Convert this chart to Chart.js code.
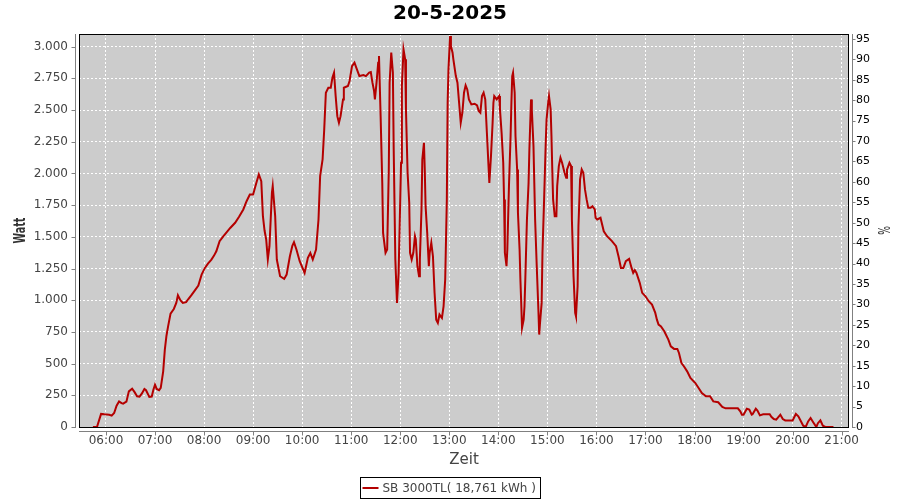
<!DOCTYPE html>
<html>
<head>
<meta charset="utf-8">
<title>20-5-2025</title>
<script src="https://cdn.jsdelivr.net/npm/chart.js@4.4.1/dist/chart.umd.min.js"></script>
<style>
  html, body { margin: 0; padding: 0; background: #fff; }
  #wrap { width: 900px; height: 500px; }
</style>
</head>
<body>
<div id="wrap"><canvas id="chart" width="900" height="500"></canvas></div>
<script>
// ===== Daten =====

const chartTitle = '20-5-2025';
const seriesLabel = 'SB 3000TL( 18,761 kWh )';

const times = [
  '05:44', '05:49', '05:54', '05:58', '06:04', '06:07', '06:10', '06:13', '06:16', '06:19', '06:21', '06:25',
  '06:28', '06:32', '06:35', '06:38', '06:41', '06:44', '06:47', '06:49', '06:53', '06:56', '06:58',
  '07:00', '07:02', '07:05', '07:07', '07:10', '07:12', '07:14', '07:16', '07:19', '07:23', '07:26', '07:28',
  '07:31', '07:34', '07:38', '07:41', '07:45', '07:49', '07:53', '07:57',
  '08:01', '08:05', '08:09', '08:12', '08:15', '08:19', '08:23', '08:27', '08:32', '08:38', '08:43', '08:48',
  '08:52', '08:56',
  '09:00', '09:04', '09:07', '09:10', '09:12', '09:14', '09:16', '09:18', '09:20', '09:23', '09:24', '09:27',
  '09:29', '09:33', '09:38', '09:41', '09:45', '09:48', '09:50', '09:53', '09:57',
  '10:03', '10:07', '10:10', '10:13', '10:17', '10:20', '10:22', '10:25', '10:27', '10:29', '10:32', '10:35',
  '10:37', '10:39', '10:41', '10:43', '10:45', '10:47', '10:50', '10:51', '10:56', '10:58',
  '11:01', '11:04', '11:07', '11:10', '11:15', '11:18', '11:22', '11:24', '11:26', '11:28', '11:29', '11:31',
  '11:33', '11:34', '11:36', '11:38', '11:39', '11:42', '11:44', '11:46', '11:47', '11:49', '11:51', '11:52',
  '11:54', '11:56', '11:58', '11:59',
  '12:01', '12:02', '12:04', '12:06', '12:07', '12:09', '12:11', '12:12', '12:14', '12:16', '12:18', '12:19',
  '12:21', '12:23', '12:24', '12:26', '12:27', '12:29', '12:30', '12:31', '12:33', '12:35', '12:36', '12:38',
  '12:40', '12:42', '12:44', '12:46', '12:48', '12:51', '12:53', '12:55', '12:57', '12:58', '12:59',
  '13:01', '13:02', '13:04', '13:05', '13:08', '13:10', '13:12', '13:14', '13:16', '13:18', '13:20', '13:22',
  '13:24', '13:27', '13:31', '13:34', '13:36', '13:38', '13:40', '13:42', '13:44', '13:46', '13:48', '13:49',
  '13:51', '13:53', '13:54', '13:55', '13:58',
  '14:01', '14:02', '14:04', '14:06', '14:07', '14:08', '14:10', '14:11', '14:13', '14:15', '14:16', '14:17',
  '14:18', '14:20', '14:21', '14:23', '14:24', '14:26', '14:27', '14:28', '14:29', '14:31', '14:32', '14:33',
  '14:35', '14:37', '14:38', '14:40', '14:41', '14:43', '14:44', '14:45', '14:47', '14:49', '14:50', '14:51',
  '14:53', '14:54', '14:56', '14:58', '14:59',
  '15:01', '15:02', '15:04', '15:05', '15:06', '15:07', '15:09', '15:11', '15:12', '15:14', '15:16', '15:18',
  '15:21', '15:23', '15:24', '15:27', '15:29', '15:30', '15:32', '15:34', '15:35', '15:37', '15:38', '15:40',
  '15:42', '15:44', '15:46', '15:48', '15:50', '15:53', '15:55', '15:58', '15:59',
  '16:01', '16:05', '16:09', '16:13', '16:19', '16:24', '16:27', '16:30', '16:33', '16:36', '16:40', '16:43',
  '16:45', '16:47', '16:49', '16:53', '16:56',
  '17:00', '17:04', '17:08', '17:12', '17:14', '17:16', '17:19', '17:23', '17:28', '17:31', '17:35', '17:39',
  '17:41', '17:44', '17:47', '17:51', '17:55',
  '18:01', '18:05', '18:09', '18:14', '18:19', '18:23', '18:29', '18:34', '18:38', '18:48', '18:53', '18:56',
  '18:58',
  '19:00', '19:04', '19:07', '19:10', '19:11', '19:15', '19:17', '19:20', '19:24', '19:32', '19:34', '19:37',
  '19:40', '19:45', '19:48', '19:51', '19:57',
  '20:00', '20:04', '20:07', '20:10', '20:13', '20:16', '20:19', '20:22', '20:25', '20:29', '20:31', '20:34',
  '20:37', '20:40', '20:50'
];

const watts = [
  0, 0, 103, 100, 97, 90, 110, 168, 202, 188, 184, 200,
  281, 302, 275, 242, 240, 265, 300, 290, 237, 240, 294,
  334, 300, 290, 308, 439, 610, 720, 794, 894, 931, 979, 1039,
  1000, 979, 985, 1010, 1044, 1080, 1115, 1202,
  1255, 1290, 1321, 1350, 1386, 1465, 1500, 1531, 1570, 1611, 1660, 1716,
  1781, 1834,
  1834, 1926, 1992, 1939, 1663, 1550, 1479, 1321, 1426, 1847, 1900, 1663,
  1321, 1189, 1168, 1202, 1347, 1430, 1458, 1400, 1308,
  1216, 1334, 1373, 1321, 1400, 1637, 1979, 2110, 2347, 2637, 2676, 2676,
  2755, 2795, 2610, 2452, 2400, 2452, 2584, 2676, 2690, 2729,
  2847, 2874, 2821, 2768, 2776, 2768, 2795, 2800, 2716, 2650, 2584, 2716,
  2874, 2926, 2452, 1926, 1531, 1374, 1400, 2031, 2716, 2953, 2795, 2190,
  1321, 979, 1216, 1505,
  2084, 2689, 2979, 2900, 2505, 2005, 1769, 1374, 1321, 1374, 1505, 1479,
  1268, 1189, 1321, 1716, 2110, 2242, 2031, 1742, 1531, 1268, 1374, 1453,
  1347, 1058, 847, 821, 887, 860, 952, 1163, 1795, 2558, 2821,
  3084, 3005, 2953, 2900, 2768, 2716, 2558, 2400, 2479, 2637, 2695, 2663,
  2584, 2545, 2550, 2537, 2492, 2479, 2610, 2637, 2584, 2321, 2058, 1926,
  2137, 2400, 2558, 2610, 2584,
  2610, 2505, 2321, 2084, 1795, 1374, 1268, 1400, 1900, 2295, 2558, 2768,
  2795, 2637, 2295, 2031, 1690, 1400, 1163, 979, 782, 847, 952, 1163,
  1637, 1926, 2190, 2584, 2500, 2216, 1926, 1637, 1268, 926, 729, 821,
  979, 1374, 1795, 2242, 2426,
  2558, 2610, 2505, 2295, 2031, 1795, 1663, 1663, 1900, 2058, 2124, 2084,
  2005, 1966, 2030, 2084, 2058, 1637, 1189, 900, 873, 1110, 1584, 1953,
  2031, 2005, 1874, 1795, 1729, 1729, 1742, 1716, 1650,
  1637, 1650, 1544, 1505, 1466, 1426, 1347, 1255, 1255, 1308, 1326, 1255,
  1216, 1237, 1216, 1137, 1058,
  1031, 992, 966, 900, 847, 808, 794, 755, 689, 636, 616, 616,
  584, 505, 479, 439, 387,
  347, 308, 268, 242, 242, 202, 195, 158, 147, 147, 147, 123,
  97,
  97, 144, 137, 97, 100, 144, 130, 92, 100, 100, 80, 63,
  58, 97, 63, 52, 52,
  52, 103, 84, 47, 10, 0, 44, 71, 40, 0, 30, 52,
  10, 0, 0
];

const hourTicks = ['06:00', '07:00', '08:00', '09:00', '10:00', '11:00', '12:00', '13:00',
  '14:00', '15:00', '16:00', '17:00', '18:00', '19:00', '20:00', '21:00'];
const wattTicks = [0, 250, 500, 750, 1000, 1250, 1500, 1750, 2000, 2250, 2500, 2750, 3000];
const percentTicks = [0, 5, 10, 15, 20, 25, 30, 35, 40, 45, 50, 55, 60, 65, 70, 75, 80, 85, 90, 95];

// ===== Hilfsfunktionen =====

function toMin(s) {
  const [h, m] = s.split(':').map(Number);
  return h * 60 + m;
}

function fmtTime(v) {
  const h = Math.floor(v / 60);
  const m = Math.round(v % 60);
  return String(h).padStart(2, '0') + ':' + String(m).padStart(2, '0');
}

// 3000 -> "3.000"
function fmtWatt(v) {
  if (v < 1000) return String(v);
  return Math.floor(v / 1000) + '.' + String(v % 1000).padStart(3, '0');
}

const FONT = 'DejaVu Sans';
const LINE_COLOR = '#b40000';

// Hintergrund, Rahmen, versetzte Achsenlinien, Achsentitel, Legende
const framePlugin = {
  id: 'frame',
  beforeDraw(chart) {
    const { ctx, chartArea: a } = chart;
    ctx.save();
    ctx.fillStyle = '#ffffff';
    ctx.fillRect(0, 0, chart.width, chart.height);
    ctx.fillStyle = '#cccccc';
    ctx.fillRect(a.left, a.top, a.right - a.left, a.bottom - a.top);
    ctx.restore();
  },
  afterDraw(chart) {
    const { ctx, chartArea: a, scales } = chart;
    ctx.save();

    // Rahmen des Plotbereichs
    ctx.strokeStyle = '#000000';
    ctx.lineWidth = 1;
    ctx.strokeRect(a.left + 0.5, a.top + 0.5, a.right - a.left - 1, a.bottom - a.top);

    // Achsenlinien (grau, leicht abgesetzt)
    ctx.strokeStyle = '#808080';
    ctx.beginPath();
    const lx = a.left - 3.5;
    ctx.moveTo(lx, a.top);
    ctx.lineTo(lx, a.bottom + 1);
    wattTicks.forEach(v => {
      const p = Math.round(scales.y.getPixelForValue(v)) + 0.5;
      ctx.moveTo(lx - 4, p);
      ctx.lineTo(lx, p);
    });
    const by = a.bottom + 4.5;
    ctx.moveTo(a.left, by);
    ctx.lineTo(a.right, by);
    hourTicks.forEach(t => {
      const p = Math.round(scales.x.getPixelForValue(toMin(t))) + 0.5;
      ctx.moveTo(p, by);
      ctx.lineTo(p, by + 4);
    });
    const rx = a.right + 3.5;
    ctx.moveTo(rx, a.top);
    ctx.lineTo(rx, a.bottom + 1);
    percentTicks.forEach(v => {
      const p = Math.round(scales.y1.getPixelForValue(v)) + 0.5;
      ctx.moveTo(rx, p);
      ctx.lineTo(rx + 3, p);
    });
    ctx.stroke();

    // Achsentitel (gedreht, schmal)
    const midY = (a.top + a.bottom) / 2;
    ctx.fillStyle = '#333333';
    ctx.textAlign = 'center';
    ctx.textBaseline = 'middle';
    ctx.save();
    ctx.font = 'bold 16px ' + FONT;
    ctx.translate(21, midY);
    ctx.rotate(-Math.PI / 2);
    ctx.scale(0.6, 1);
    ctx.fillText('Watt', 0, 0);
    ctx.restore();
    ctx.save();
    ctx.font = '15px ' + FONT;
    ctx.translate(882, midY);
    ctx.rotate(Math.PI / 2);
    ctx.scale(0.62, 1);
    ctx.fillText('%', 0, 0);
    ctx.restore();

    // Legende mit Rahmen
    ctx.font = '12px ' + FONT;
    const tw = ctx.measureText(seriesLabel).width;
    const bw = Math.round(tw + 27);
    const bx = Math.round(450 - bw / 2) + 0.5;
    const bTop = 477.5;
    const bh = 21;
    ctx.strokeStyle = '#000000';
    ctx.lineWidth = 1;
    ctx.strokeRect(bx, bTop, bw, bh);
    ctx.strokeStyle = LINE_COLOR;
    ctx.lineWidth = 2;
    ctx.beginPath();
    ctx.moveTo(bx + 2, 488);
    ctx.lineTo(bx + 18, 488);
    ctx.stroke();
    ctx.fillStyle = '#444444';
    ctx.textAlign = 'left';
    ctx.fillText(seriesLabel, bx + 22, 488.5);

    ctx.restore();
  }
};

const points = times.map((t, i) => ({ x: toMin(t), y: watts[i] }));

new Chart(document.getElementById('chart'), {
  type: 'line',
  data: {
    datasets: [{
      label: seriesLabel,
      data: points,
      borderColor: LINE_COLOR,
      borderWidth: 2,
      pointRadius: 0,
      tension: 0,
      fill: false
    }]
  },
  options: {
    responsive: false,
    animation: false,
    layout: { padding: 0 },
    plugins: {
      legend: { display: false },
      tooltip: { enabled: false },
      title: {
        display: true,
        text: chartTitle,
        color: '#000000',
        font: { family: FONT, size: 20, weight: 'bold' },
        padding: { top: 2, bottom: 8 }
      }
    },
    scales: {
      x: {
        type: 'linear',
        min: 327,
        max: 1269,
        afterBuildTicks: (scale) => { scale.ticks = hourTicks.map(t => ({ value: toMin(t) })); },
        afterFit: (scale) => { scale.height = 73; },
        ticks: {
          autoSkip: false,
          maxRotation: 0,
          padding: 7,
          color: '#444444',
          font: { family: FONT, size: 12 },
          callback: (v) => fmtTime(v)
        },
        grid: { color: '#ffffff', lineWidth: 1, drawTicks: false },
        border: { display: false, dash: [2, 2] },
        title: {
          display: true,
          text: 'Zeit',
          color: '#444444',
          font: { family: FONT, size: 15 },
          padding: { top: 0, bottom: 31 }
        }
      },
      y: {
        position: 'left',
        min: 0,
        max: 3100,
        afterBuildTicks: (scale) => { scale.ticks = wattTicks.map(v => ({ value: v })); },
        afterFit: (scale) => { scale.width = 79; },
        ticks: {
          padding: 11,
          color: '#444444',
          font: { family: FONT, size: 12 },
          callback: (v) => fmtWatt(v)
        },
        grid: { color: '#ffffff', lineWidth: 1, drawTicks: false },
        border: { display: false, dash: [2, 2] }
      },
      y1: {
        position: 'right',
        min: 0,
        max: 96.2,
        afterBuildTicks: (scale) => { scale.ticks = percentTicks.map(v => ({ value: v })); },
        afterFit: (scale) => { scale.width = 51; },
        ticks: {
          padding: 7,
          color: '#000000',
          font: { family: FONT, size: 11 },
          callback: (v) => String(v)
        },
        grid: { drawOnChartArea: false, drawTicks: false },
        border: { display: false }
      }
    }
  },
  plugins: [framePlugin]
});
</script>
</body>
</html>
